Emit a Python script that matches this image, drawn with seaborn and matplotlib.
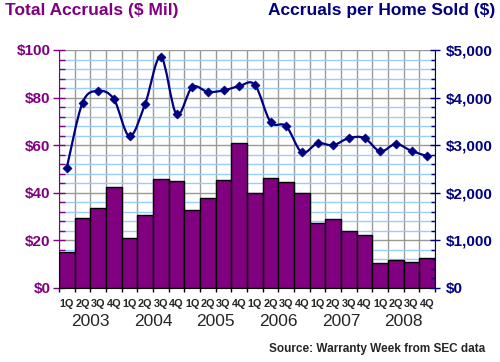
import numpy as np
import pandas as pd
import seaborn as sns
import matplotlib
matplotlib.use('Agg')
import matplotlib.pyplot as plt
from matplotlib.path import Path
from matplotlib.patches import PathPatch
from matplotlib.ticker import MultipleLocator, FixedLocator, FuncFormatter

# quarterly data, 2003 Q1 .. 2008 Q4
years = ['2003', '2004', '2005', '2006', '2007', '2008']
quarters = ['1Q', '2Q', '3Q', '4Q']
total_accruals = [15, 29.5, 33.5, 42.5, 21, 30.8, 45.8, 45,
                  32.8, 38, 45.4, 61, 40, 46.2, 44.5, 40,
                  27.3, 28.9, 23.8, 22.3, 10.4, 11.6, 10.8, 12.5]
per_home = [2530, 3890, 4140, 3970, 3190, 3870, 4860, 3650,
            4220, 4120, 4150, 4240, 4270, 3490, 3400, 2850,
            3040, 3000, 3150, 3150, 2870, 3025, 2880, 2770]

PURPLE = '#800080'
NAVY = '#000080'

sns.set_style('white')
plt.rcParams['font.family'] = ['Liberation Sans', 'DejaVu Sans']

labels = [y + ' ' + q for y in years for q in quarters]
df = pd.DataFrame({'quarter': labels, 'accruals': total_accruals,
                   'per_home': per_home, 'pos': np.arange(len(labels))})

fig = plt.figure(figsize=(5, 3.62), dpi=100)
ax = fig.add_axes([59/500, 1-288/362, (435-59)/500, (288-50)/362])

sns.barplot(data=df, x='quarter', y='accruals', ax=ax, color=PURPLE,
            saturation=1, width=1.0, edgecolor='black', linewidth=1, zorder=3)
ax.set_xlim(-0.5, 23.5)
ax.set_ylim(0, 100)
ax.set_xlabel('')
ax.set_ylabel('')

# grid
ax.yaxis.set_major_locator(MultipleLocator(20))
ax.yaxis.set_minor_locator(MultipleLocator(4))
ax.yaxis.set_major_formatter(FuncFormatter(lambda v, p: '$%d' % v))
ax.xaxis.set_major_locator(FixedLocator(df['pos']))
ax.xaxis.set_minor_locator(FixedLocator(np.arange(-0.5, 24, 1)))
ax.set_xticklabels([q for y in years for q in quarters])
ax.grid(which='major', axis='y', color='#999999', linewidth=1, zorder=0)
ax.grid(which='minor', axis='y', color='#99ccff', linewidth=1, zorder=0)
ax.grid(which='minor', axis='x', color='#999999', linewidth=1, zorder=0)
ax.set_axisbelow(True)

ax.tick_params(axis='y', which='major', direction='inout', length=8, width=1,
               color=PURPLE, labelcolor=PURPLE, labelsize=11, pad=2, left=True)
ax.tick_params(axis='y', which='minor', direction='in', length=4, width=1,
               color=PURPLE, left=True)
ax.tick_params(axis='x', which='major', length=0, labelsize=7.8, pad=8)
ax.tick_params(axis='x', which='minor', direction='out', length=3, width=1,
               color='black', bottom=True)
for t in ax.get_yticklabels():
    t.set_fontweight('bold')
for t in ax.get_xticklabels():
    t.set_fontweight('bold')

for s in ['top', 'right']:
    ax.spines[s].set_visible(False)
ax.spines['left'].set_color(PURPLE)
ax.spines['bottom'].set_color('black')

# years under the quarters
for i, y in enumerate(years):
    ax.text(i*4 + 1.5, -0.142, y, transform=ax.get_xaxis_transform(),
            ha='center', va='center', fontsize=12.5)

# right axis line
ax2 = ax.twinx()
ax2.set_ylim(0, 5000)
ax2.yaxis.set_major_locator(MultipleLocator(1000))
ax2.yaxis.set_minor_locator(MultipleLocator(200))
ax2.yaxis.set_major_formatter(FuncFormatter(lambda v, p: '${:,.0f}'.format(v)))
ax2.tick_params(axis='y', which='major', direction='inout', length=7, width=1,
                color=NAVY, labelcolor=NAVY, labelsize=11, pad=4)
ax2.tick_params(axis='y', which='minor', direction='in', length=3, width=1, color=NAVY)
for t in ax2.get_yticklabels():
    t.set_fontweight('bold')
for s in ['top', 'left', 'bottom']:
    ax2.spines[s].set_visible(False)
ax2.spines['right'].set_color(NAVY)

# smoothed line (Bezier through the points, like Excel smoothing)
px = df['pos'].to_numpy(dtype=float)
py = df['per_home'].to_numpy(dtype=float)
verts = [(px[0], py[0])]
codes = [Path.MOVETO]
n = len(px)
for i in range(n - 1):
    p0 = max(i - 1, 0)
    p3 = min(i + 2, n - 1)
    c1 = (px[i] + (px[i+1] - px[p0]) / 6, py[i] + (py[i+1] - py[p0]) / 6)
    c2 = (px[i+1] - (px[p3] - px[i]) / 6, py[i+1] - (py[p3] - py[i]) / 6)
    verts += [c1, c2, (px[i+1], py[i+1])]
    codes += [Path.CURVE4] * 3
ax2.add_patch(PathPatch(Path(verts, codes), facecolor='none', edgecolor=NAVY,
                        linewidth=1.6, zorder=4))
sns.scatterplot(data=df, x='pos', y='per_home', ax=ax2, marker='D', s=22,
                color=NAVY, edgecolor=NAVY, zorder=5, legend=False)
ax2.set_xlim(-0.5, 23.5)
ax2.set_ylim(0, 5000)
ax2.set_ylabel('')
ax2.set_xlabel('')

fig.text(5/500, 1-15.5/362, 'Total Accruals ($ Mil)', color=PURPLE,
         fontsize=12.5, fontweight='bold', ha='left', va='baseline')
fig.text(495/500, 1-15.5/362, 'Accruals per Home Sold ($)', color=NAVY,
         fontsize=12.5, fontweight='bold', ha='right', va='baseline')
fig.text(377/500, 1-352/362, 'Source: Warranty Week from SEC data',
         fontsize=8.5, fontweight='bold', ha='center', va='baseline')

fig.savefig('out.png', dpi=100, facecolor='white')
